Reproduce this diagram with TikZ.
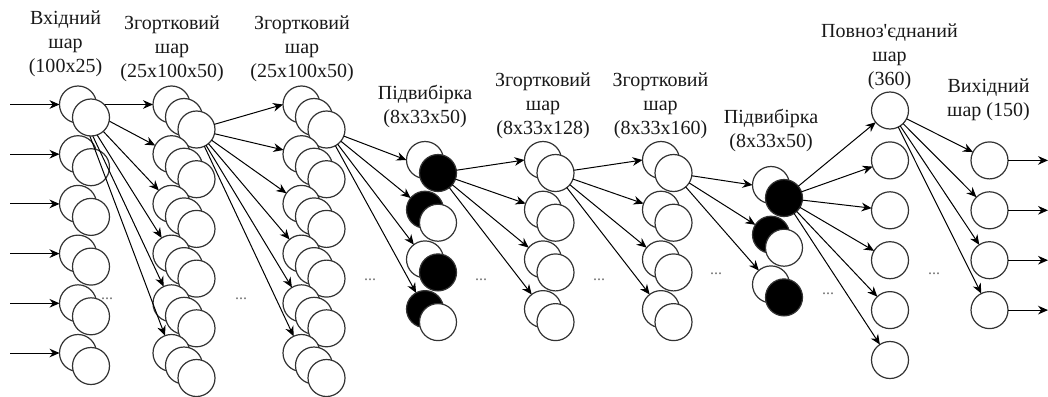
\documentclass[tikz,border=0pt]{standalone}
\usepackage{fontspec}
\setmainfont{Liberation Serif}
\usetikzlibrary{arrows.meta}
\pgfdeclarelayer{front}
\pgfsetlayers{main,front}
\begin{document}
\begin{tikzpicture}[x=0.75pt,y=-0.75pt,
  nd/.style={circle, draw=black!80, line width=0.9pt, fill=white, minimum size=27.75pt, inner sep=0pt, outer sep=0pt},
  bk/.style={nd, fill=black},
  ed/.style={draw=black, line width=0.75pt, -{Stealth[length=7.5pt,width=6.5pt]}},
  lbl/.style={font=\fontsize{15pt}{18pt}\selectfont, align=center, text=black!90, inner sep=0pt},
  dots/.style={font=\fontsize{12pt}{12pt}\selectfont, text=black!55, anchor=base, inner sep=0pt}]
\useasboundingbox (0,0) rectangle (1048,396);

% ---------- labels ----------
\node[lbl] (lin)  at (65.5,44)   {Вхідний\\шар\\(100x25)};
\node[lbl] (lc1)  at (172,49)    {Згортковий\\шар\\(25x100x50)};
\node[lbl] (lc2)  at (302,49)    {Згортковий\\шар\\(25x100x50)};
\node[lbl] (lp1)  at (425,106)   {Підвибірка\\(8x33x50)};
\node[lbl] (lc3)  at (543,106)   {Згортковий\\шар\\(8x33x128)};
\node[lbl] (lc4)  at (660.5,106) {Згортковий\\шар\\(8x33x160)};
\node[lbl] (lp2)  at (771,130.5) {Підвибірка\\(8x33x50)};
\node[lbl] (lfc)  at (889.5,57)  {Повноз\textquotesingle єднаний\\шар\\(360)};
\node[lbl] (lout) at (988.5,100) {Вихідний\\шар (150)};

% ---------- column 1 : input pairs ----------
\begin{pgfonlayer}{front}
  \node[nd] (c1b1) at (78,104.5) {};
  \node[nd] (c1f1) at (91,117.5) {};
\end{pgfonlayer}
\foreach \k/\y in {2/154.2,3/203.9,4/253.6,5/303.3,6/353} {
  \node[nd] (c1b\k) at (78,\y) {};
  \node[nd] (c1f\k) at (91,{\y+13}) {};
}
\foreach \k/\y in {1/104.5,2/154.2,3/203.9,4/253.6,5/303.3,6/353} {
  \coordinate (in\k) at (10,\y);
}

% ---------- column 2 and 3 : triples ----------
\foreach \k/\y in {1/104.5,2/154.2,3/203.9,4/253.6,5/303.3,6/353} {
  \node[nd] (c2b\k) at (171.5,\y) {};
  \node[nd] (c2m\k) at (184,{\y+12.5}) {};
  \node[nd] (c2f\k) at (196.5,{\y+25}) {};
  \node[nd] (c3b\k) at (301.5,\y) {};
  \node[nd] (c3m\k) at (314,{\y+12.5}) {};
  \node[nd] (c3f\k) at (326.5,{\y+25}) {};
}

% ---------- pooling 1 ----------
\node[nd] (p1b1) at (425,160)   {};  \node[bk] (p1f1) at (438,173)   {};
\node[bk] (p1b2) at (425,209.7) {};  \node[nd] (p1f2) at (438,222.7) {};
\node[nd] (p1b3) at (425,259.4) {};  \node[bk] (p1f3) at (438,272.4) {};
\node[bk] (p1b4) at (425,309.1) {};  \node[nd] (p1f4) at (438,322.1) {};

% ---------- conv 3 and 4 : pairs ----------
\foreach \k/\y in {1/160,2/209.7,3/259.4,4/309.1} {
  \node[nd] (c5b\k) at (543,\y) {};
  \node[nd] (c5f\k) at (555.5,{\y+13}) {};
  \node[nd] (c6b\k) at (661,\y) {};
  \node[nd] (c6f\k) at (673.5,{\y+13}) {};
}

% ---------- pooling 2 ----------
\node[nd] (p2b1) at (771,185)   {};  \node[bk] (p2f1) at (784,198)   {};
\node[bk] (p2b2) at (771,234.7) {};  \node[nd] (p2f2) at (784,247.7) {};
\node[nd] (p2b3) at (771,284.4) {};  \node[bk] (p2f3) at (784,297.4) {};

% ---------- fully connected and output ----------
\foreach \k/\y in {1/110.5,2/160.4,3/210.3,4/260.2,5/310.1,6/360} {
  \node[nd] (fc\k) at (890,\y) {};
}
\foreach \k/\y in {1/160.4,2/210.3,3/260.2,4/310.1} {
  \node[nd] (o\k) at (989.5,\y) {};
  \coordinate (end\k) at (1048,\y);
}

% ---------- dots ----------
\node[dots] (d1) at (107,299) {...};
\node[dots] (d2) at (241,299) {...};
\node[dots] (d3) at (370,280) {...};
\node[dots] (d4) at (481,280) {...};
\node[dots] (d5) at (599,280) {...};
\node[dots] (d6) at (716,274) {...};
\node[dots] (d7) at (828,294) {...};
\node[dots] (d8) at (934,274) {...};

% ---------- connectors ----------
\foreach \k in {1,...,6} { \draw[ed] (in\k) -- (c1b\k); }
\draw[ed] (c1b1.center) -- (c2b1.west);
\foreach \k in {2,...,6} { \draw[ed] (c1b1.center) -- (c2b\k); }
\draw[ed] (c2f1) -- (c3b1.west);
\foreach \k in {2,...,6} { \draw[ed] (c2f1) -- (c3b\k); }
\draw[ed] (c3f1) -- (p1b1.west);
\foreach \k in {2,3,4} { \draw[ed] (c3f1) -- (p1b\k); }
\draw[ed] (p1f1) -- (c5b1.west);
\foreach \k in {2,3,4} { \draw[ed] (p1f1) -- (c5b\k); }
\draw[ed] (c5f1) -- (c6b1.west);
\foreach \k in {2,3,4} { \draw[ed] (c5f1) -- (c6b\k); }
\draw[ed] (c6f1) -- (p2b1.west);
\foreach \k in {2,3} { \draw[ed] (c6f1) -- (p2b\k); }
\foreach \k in {1,...,6} { \draw[ed] (p2f1) -- (fc\k); }
\foreach \k in {1,...,4} { \draw[ed] (fc1) -- (o\k); }
\foreach \k in {1,...,4} { \draw[ed] (o\k) -- (end\k); }
\end{tikzpicture}
\end{document}
